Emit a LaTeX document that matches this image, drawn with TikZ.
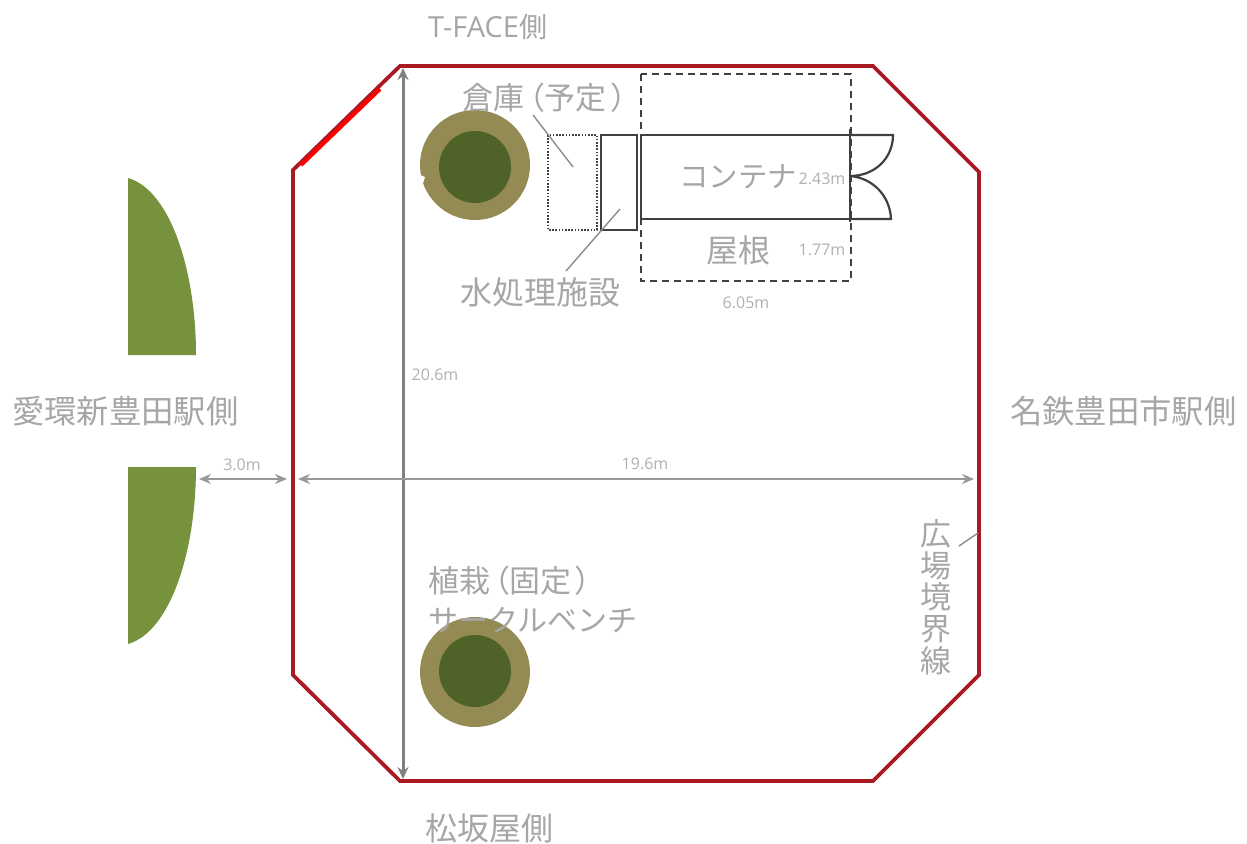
\documentclass[tikz,border=0pt]{standalone}
\usepackage{fontspec}
\setmainfont{Open Sans}
\newfontfamily\jpf{Noto Sans CJK JP}
\newfontfamily\jpp[RawFeature=+palt]{Noto Sans CJK JP}
\usetikzlibrary{arrows.meta}
\definecolor{txtgray}{HTML}{A6A6A6}
\definecolor{dimgray}{HTML}{B0B0B0}
\definecolor{leaf}{HTML}{76923C}
\definecolor{ringc}{HTML}{948A54}
\definecolor{corec}{HTML}{4F6228}
\definecolor{bordc}{HTML}{AA1A22}
\tikzset{
  x=1pt,y=-1pt,
  lbl/.style={inner sep=0pt,text=txtgray,font=\fontsize{32}{34}\selectfont\jpf,anchor=west},
  lblw/.style={lbl,font=\fontsize{32.3}{34}\selectfont\jpf},
  lblp/.style={lbl,font=\fontsize{31}{34}\selectfont\jpp},
  dimlbl/.style={inner sep=0pt,text=dimgray,font=\fontsize{16}{18}\selectfont},
  dimarrow/.style={draw=gray!80,line width=2pt,{Stealth[length=12pt,width=10pt]}-{Stealth[length=12pt,width=10pt]}},
  mainarrow/.style={draw=gray,line width=3pt,{Stealth[length=12pt,width=11pt]}-{Stealth[length=12pt,width=11pt]}},
  leader/.style={draw=gray!90,line width=1.4pt},
  plan/.style={draw=black!75,line width=2.2pt},
  ring/.style={circle,fill=ringc,minimum size=110pt,inner sep=0pt},
  core/.style={circle,fill=corec,minimum size=72pt,inner sep=0pt},
  hedge/.style={fill=leaf,draw=none}
}
\begin{document}
\begin{tikzpicture}
\useasboundingbox (0,0) rectangle (1247,843);
% hedges
\fill[hedge] (128,178) .. controls (170,190) and (196,270) .. (196,355) -- (128,355) -- cycle;
\fill[hedge] (128,644) .. controls (170,632) and (196,552) .. (196,467) -- (128,467) -- cycle;
% border
\draw[bordc,line width=3.8pt,line join=miter] (400,66) -- (873,66) -- (979,172) -- (979,675) -- (873,781) -- (400,781) -- (293,675) -- (293,170) -- cycle;
\draw[red,line width=4pt] (301,165) -- (380,89);
% trees
\node[ring] (treeA) at (475,165) {};
\node[core] (coreA) at (475,167) {};
\fill[white] (420,175) -- (425,177) -- (423,183) -- (420,183) -- cycle;
\node[ring] (treeB) at (475,672) {};
\node[core] (coreB) at (475,671) {};
% building parts
\draw[black!75,line width=2pt,dash pattern=on 1.6pt off 1.6pt] (548,135) rectangle (597,230);
\draw[plan] (601,135) rectangle (637,230);
\draw[plan] (641,135) rectangle (850,219);
\draw[black!75,line width=2.2pt,dash pattern=on 7pt off 5pt] (641,74) rectangle (851,281);
\draw[plan] (850,129) -- (850,222);
\draw[plan] (850,135) -- (893,135) .. controls (893,158) and (875,176) .. (850,176)
            .. controls (873,178) and (890,196) .. (891,219) -- (850,219);
% dimension lines
\coordinate (vTop) at (403,68);
\coordinate (vBot) at (403,779);
\draw[mainarrow] (vTop) -- (vBot);
\coordinate (wA) at (199,479);
\coordinate (wB) at (287,479);
\coordinate (wC) at (298,479);
\coordinate (wD) at (974,479);
\draw[dimarrow] (wA) -- (wB);
\draw[dimarrow] (wC) -- (wD);
% leaders
\coordinate (la) at (533,115); \coordinate (lb) at (573,167);
\draw[leader] (la) -- (lb);
\coordinate (lc) at (620,209); \coordinate (ld) at (566,271);
\draw[leader] (lc) -- (ld);
\coordinate (le) at (959,546); \coordinate (lf) at (978,533);
\draw[leader] (le) -- (lf);
% labels
\node[lbl,font=\fontsize{29}{30}\selectfont] (tface) at (428,27) {T-FACE{\jpf\fontsize{28}{30}\selectfont 側}};
\node[lblw] (aikan) at (12,411) {愛環新豊田駅側};
\node[lblw] (meitetsu) at (1010,411) {名鉄豊田市駅側};
\node[lbl] (matsu) at (425,828) {松坂屋側};
\node[lblp] (souko) at (462,98) {倉庫\hspace{5pt}（予定\hspace{5pt}）};
\node[lbl] (mizu) at (460,292) {水処理施設};
\node[lbl,font=\fontsize{29.5}{32}\selectfont\jpf] (cont) at (679,177) {コンテナ};
\node[lbl] (yane) at (706,250) {屋根};
\node[lblp] (shoku) at (428,581) {植栽\hspace{4pt}（固定\hspace{4pt}）};
\node[lbl,font=\fontsize{30}{32}\selectfont\jpf] (bench) at (428,620) {サークルベンチ};
\node[inner sep=0pt,text=txtgray,align=center,font=\fontsize{31}{31.7}\selectfont\jpf] (kyokai) at (936,597) {広\\場\\境\\界\\線};
\node[dimlbl] (d1) at (822,179) {2.43m};
\node[dimlbl] (d2) at (822,250) {1.77m};
\node[dimlbl] (d3) at (746,303) {6.05m};
\node[dimlbl] (d4) at (435,375) {20.6m};
\node[dimlbl] (d5) at (242,465) {3.0m};
\node[dimlbl] (d6) at (645,464) {19.6m};
\end{tikzpicture}
\end{document}
